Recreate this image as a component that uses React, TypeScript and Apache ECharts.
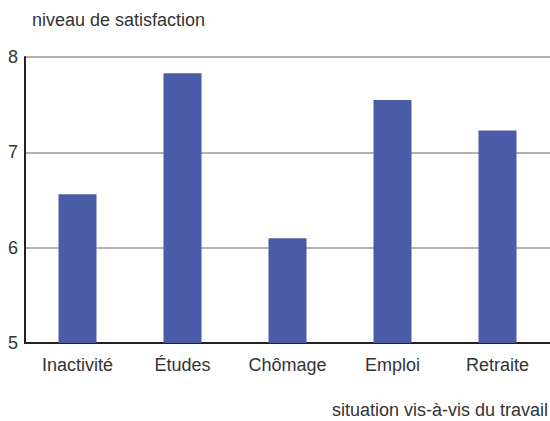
import React, { useEffect, useRef } from "react";
import * as echarts from "echarts";

const categories = ["Inactivité", "Études", "Chômage", "Emploi", "Retraite"];
const values = [6.56, 7.83, 6.1, 7.55, 7.23];
const yTicks = [5, 6, 7, 8];
const yTitle = "niveau de satisfaction";
const xTitle = "situation vis-à-vis du travail";

const FONT = "'Liberation Sans', Arial, sans-serif";
const TEXT = "#333333";

export default function App() {
  const ref = useRef<HTMLDivElement>(null);
  useEffect(() => {
    if (!ref.current) return;
    const chart = echarts.init(ref.current, undefined, { renderer: "svg" });
    chart.setOption({
      animation: false,
      backgroundColor: "#ffffff",
      grid: { left: 25, top: 57, width: 530, height: 286, containLabel: false },
      xAxis: {
        type: "category",
        data: categories,
        boundaryGap: true,
        axisTick: { show: false },
        axisLine: { show: true, lineStyle: { color: "#222", width: 2 } },
        axisLabel: { color: TEXT, fontSize: 18, fontFamily: FONT, margin: 13 },
        splitLine: { show: false },
      },
      yAxis: {
        type: "value",
        min: yTicks[0],
        max: yTicks[yTicks.length - 1],
        interval: 1,
        axisTick: { show: false },
        axisLine: { show: true, lineStyle: { color: "#222", width: 2 } },
        axisLabel: { color: TEXT, fontSize: 18, fontFamily: FONT, margin: 7 },
        splitLine: { show: true, lineStyle: { color: "#b3b3b3", width: 2 } },
      },
      series: [
        {
          type: "bar",
          data: values,
          barWidth: 38,
          itemStyle: { color: "#4a5ba8" },
          z: 1,
        },
      ],
      graphic: [
        {
          type: "text",
          left: 32,
          top: 11,
          style: { text: yTitle, fill: TEXT, font: `18px ${FONT}` },
        },
        {
          type: "text",
          right: 2,
          top: 401,
          style: { text: xTitle, fill: TEXT, font: `18px ${FONT}` },
        },
      ],
    });
    return () => chart.dispose();
  }, []);
  return <div ref={ref} style={{ width: 550, height: 421, position: "absolute", left: 0, top: 0 }} />;
}
